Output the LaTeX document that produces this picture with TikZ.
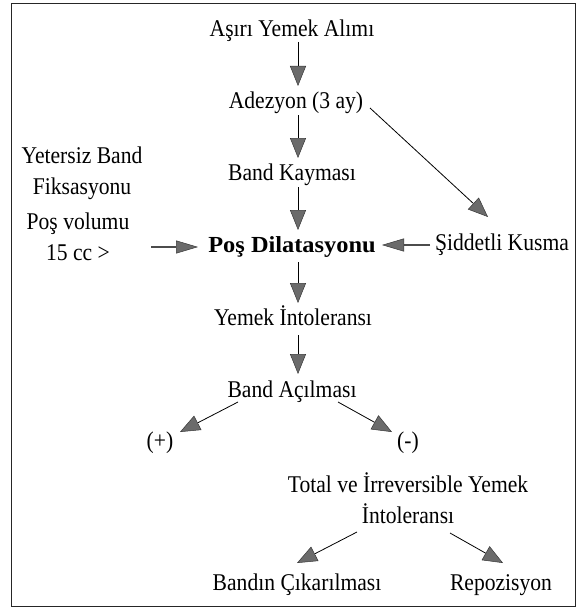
\documentclass[tikz,border=0pt]{standalone}
\usepackage{fontspec}
\setmainfont{Liberation Serif}[FakeStretch=0.9]
\newfontfamily\boldlabel{Liberation Serif}[FakeStretch=1.06]
\usetikzlibrary{arrows.meta,calc}

\definecolor{tipfill}{gray}{0.42}
\definecolor{tipedge}{gray}{0.22}

\tikzset{
  lbl/.style={inner sep=0pt, anchor=base, align=center,
    font=\fontsize{24}{31}\selectfont},
  conn/.style={line width=0.8pt,
    -{Triangle[length=20pt,width=16pt,fill=tipfill,color=tipedge,line width=0.5pt]}},
  sideconn/.style={line width=1.7pt, draw=black!70,
    -{Triangle[length=22pt,width=13pt,fill=tipfill,color=tipedge,line width=0.5pt]}},
  frame/.style={draw=black!85, line width=1pt}
}

\begin{document}
\begin{tikzpicture}[x=1pt,y=-1pt]
\useasboundingbox (0,0) rectangle (578,610);
\draw[frame] (11.5,4) rectangle (575,606);

% main chain
\node[lbl] (A) at (292,37) {Aşırı Yemek Alımı};
\node[lbl] (B) at (296,108) {Adezyon (3 ay)};
\node[lbl] (C) at (292,180) {Band Kayması};
\node[lbl, font=\fontsize{23}{31}\boldlabel\bfseries] (D) at (292,252) {Poş Dilatasyonu};
\node[lbl] (E) at (293,325) {Yemek İntoleransı};
\node[lbl] (F) at (292,397) {Band Açılması};

% outcomes (two-line labels are placed by their last baseline)
\node[lbl] (G) at (160,448) {(+)};
\node[lbl] (H) at (408,448) {(-)};
\node[lbl] (I) at (408,523) {Total ve İrreversible Yemek\\İntoleransı};
\node[lbl] (J) at (297,590) {Bandın Çıkarılması};
\node[lbl] (K) at (501,590) {Repozisyon};

% side causes
\node[lbl] (L) at (82,194) {Yetersiz Band\\Fiksasyonu};
\node[lbl] (M) at (78,260) {Poş volumu\\15 cc >};
\node[lbl] (N) at (502,250) {Şiddetli Kusma};

% vertical connectors
\draw[conn] ($(A.base)+(6,5)$) -- ($(B.base)+(2,-22)$);
\draw[conn] ($(B.base)+(2,7)$) -- ($(C.base)+(6,-22)$);
\draw[conn] ($(C.base)+(6,7)$) -- ($(D.base)+(6,-22)$);
\draw[conn] ($(D.base)+(6,10)$) -- ($(E.base)+(5,-22)$);
\draw[conn] ($(E.base)+(5,10)$) -- ($(F.base)+(6,-23)$);

% branches
\draw[conn] ($(F.base)+(-54,5)$) -- ($(G.base)+(20,-16)$);
\draw[conn] ($(F.base)+(46,5)$) -- ($(H.base)+(-16,-16)$);
\draw[conn] ($(I.base)+(-51,9)$) -- ($(J.base)+(0,-27)$);
\draw[conn] ($(I.base)+(42,10)$) -- ($(K.base)+(2,-27)$);
\draw[conn] ($(B.base)+(74,0)$) -- ($(N.base)+(-14,-33)$);

% horizontal inputs to the pouch dilatation
\draw[sideconn] ($(M.base)+(73,-13)$) -- ($(D.base)+(-94,-5)$);
\draw[sideconn] ($(N.base)+(-72,-5)$) -- ($(D.base)+(90,-7)$);
\end{tikzpicture}
\end{document}
